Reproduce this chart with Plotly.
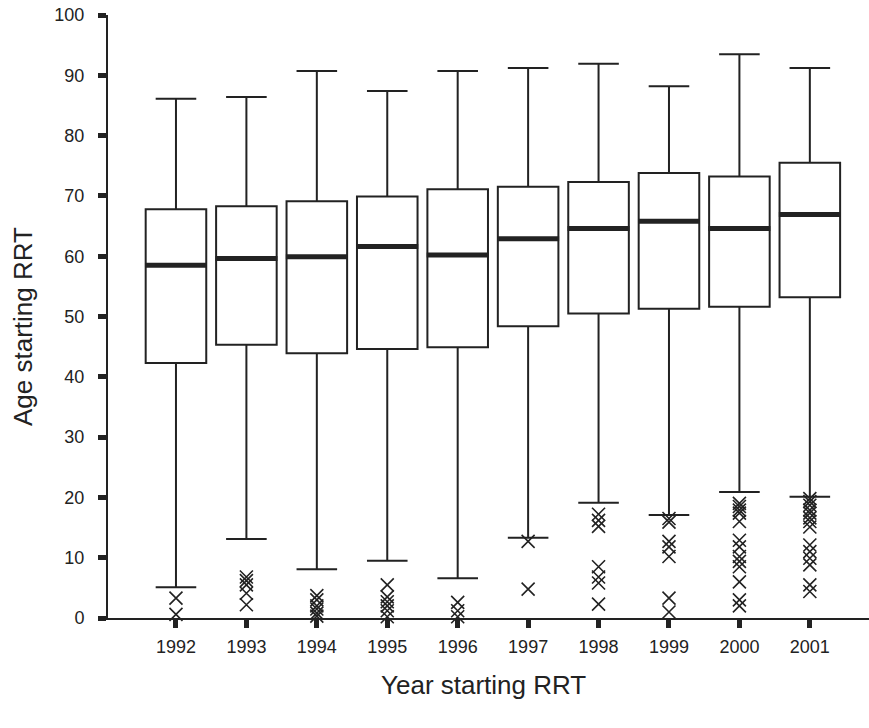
import plotly.graph_objects as go

years = ["1992", "1993", "1994", "1995", "1996", "1997", "1998", "1999", "2000", "2001"]
q1 = [42.3, 45.3, 43.9, 44.6, 44.9, 48.4, 50.5, 51.3, 51.6, 53.2]
median = [58.5, 59.6, 59.9, 61.6, 60.2, 62.9, 64.6, 65.8, 64.6, 66.9]
q3 = [67.8, 68.3, 69.1, 69.9, 71.1, 71.5, 72.3, 73.8, 73.2, 75.5]
lower_whisker = [5.1, 13.1, 8.1, 9.5, 6.6, 13.3, 19.1, 17.1, 20.9, 20.1]
upper_whisker = [86.1, 86.4, 90.7, 87.4, 90.7, 91.2, 91.9, 88.2, 93.5, 91.2]

outliers = {
    "1992": [3.3, 0.6],
    "1993": [6.8, 6.2, 5.5, 4.1, 2.2],
    "1994": [3.7, 3.0, 2.0, 1.5, 0.8, 0.3],
    "1995": [5.5, 3.5, 2.7, 2.0, 1.2, 0.2],
    "1996": [2.6, 1.2, 0.2],
    "1997": [12.7, 4.8],
    "1998": [17.2, 16.2, 15.2, 8.5, 6.8, 5.8, 2.3],
    "1999": [16.5, 15.9, 12.7, 11.8, 10.2, 3.3, 1.0],
    "2000": [19.0, 18.5, 17.9, 17.4, 16.0, 12.9, 11.8, 10.2, 9.4, 8.5, 6.0, 3.0, 2.0],
    "2001": [19.8, 19.3, 18.7, 17.9, 17.4, 16.6, 16.0, 15.1, 12.1, 11.0, 9.9, 8.8, 5.5, 4.4],
}

idx = list(range(len(years)))
BOX_W = 0.86
INK = "#222222"

fig = go.Figure()

fig.add_trace(go.Box(
    x=idx, q1=q1, median=median, q3=q3,
    lowerfence=lower_whisker, upperfence=upper_whisker,
    width=BOX_W, whiskerwidth=0.67,
    line=dict(color=INK, width=2), fillcolor="white",
    boxpoints=False, showlegend=False, hoverinfo="skip",
))

# thick median bars
mx, my = [], []
for i, m in zip(idx, median):
    mx += [i - BOX_W / 2 - 0.01, i + BOX_W / 2 + 0.01, None]
    my += [m, m, None]
fig.add_trace(go.Scatter(x=mx, y=my, mode="lines",
                         line=dict(color=INK, width=5),
                         showlegend=False, hoverinfo="skip"))

# outliers
ox, oy = [], []
for i, yr in enumerate(years):
    for v in outliers[yr]:
        ox.append(i)
        oy.append(v)
fig.add_trace(go.Scatter(x=ox, y=oy, mode="markers",
                         marker=dict(symbol="x-thin-open", size=13, color=INK,
                                     line=dict(color=INK, width=1.6)),
                         cliponaxis=False, showlegend=False, hoverinfo="skip"))

FONT = "Liberation Sans, Arial, sans-serif"

fig.update_layout(
    width=869, height=728,
    margin=dict(l=108, r=0, t=15, b=110),
    paper_bgcolor="white", plot_bgcolor="white",
    font=dict(family=FONT, color=INK),
    xaxis=dict(
        range=[-0.965, 9.84], tickmode="array", tickvals=idx, ticktext=years,
        showline=True, linecolor=INK, linewidth=2,
        ticks="outside", ticklen=8, tickwidth=5, tickcolor=INK,
        tickfont=dict(size=18, color=INK), ticklabelstandoff=3,
        showgrid=False, zeroline=False,
    ),
    yaxis=dict(
        range=[0, 100], tickmode="array", tickvals=list(range(0, 101, 10)),
        showline=True, linecolor=INK, linewidth=2,
        ticks="outside", ticklen=8, tickwidth=5, tickcolor=INK,
        tickfont=dict(size=18, color=INK), ticklabelstandoff=10,
        showgrid=False, zeroline=False,
    ),
    annotations=[
        dict(text="Age starting RRT", xref="paper", yref="paper",
             x=-(108 - 23) / 761, y=(618 - 327) / 603, xanchor="center", yanchor="middle",
             textangle=-90, showarrow=False, font=dict(size=26, color=INK)),
        dict(text="Year starting RRT", xref="paper", yref="paper",
             x=(483 - 108) / 761, y=-(685 - 618) / 603, xanchor="center", yanchor="middle",
             showarrow=False, font=dict(size=26, color=INK)),
    ],
)

fig.write_html("out.html")
